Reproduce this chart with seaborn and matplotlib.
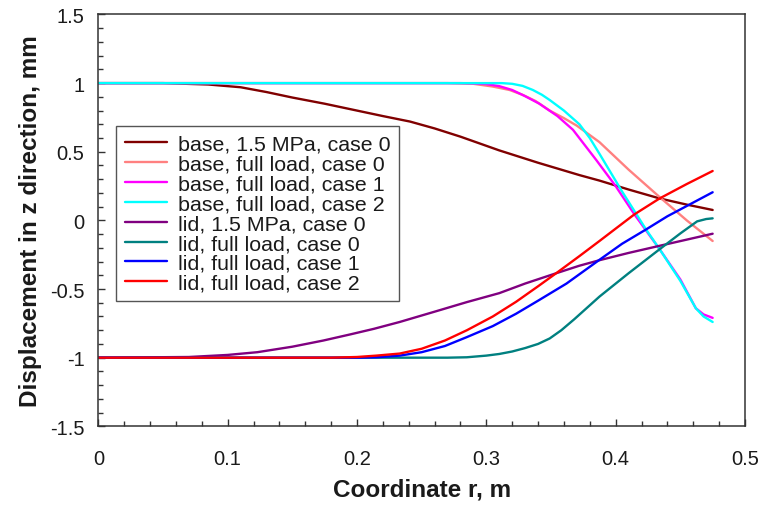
import matplotlib
matplotlib.use("Agg")
import matplotlib.pyplot as plt
import numpy as np
import pandas as pd
import seaborn as sns
from matplotlib.ticker import MultipleLocator, FuncFormatter

# ---------------- data ----------------
series_names = [
    "base, 1.5 MPa, case 0",
    "base, full load, case 0",
    "base, full load, case 1",
    "base, full load, case 2",
    "lid, 1.5 MPa, case 0",
    "lid, full load, case 0",
    "lid, full load, case 1",
    "lid, full load, case 2",
]
colors = ["#800000", "#FF8080", "#FF00FF", "#00FFFF",
          "#800080", "#008080", "#0000FF", "#FF0000"]

r_base_15_c0 = [0, 0.05, 0.085, 0.11, 0.13, 0.15, 0.175, 0.2, 0.22, 0.241, 0.26,
                0.28, 0.31, 0.34, 0.372, 0.3875, 0.41, 0.434, 0.455, 0.475]
v_base_15_c0 = [1.0, 1.0, 0.99, 0.97, 0.935, 0.895, 0.85, 0.80, 0.76, 0.72, 0.67,
                0.61, 0.51, 0.42, 0.33, 0.29, 0.225, 0.16, 0.115, 0.076]

r_base_fl_c0 = [0, 0.27, 0.29, 0.305, 0.318, 0.328, 0.338, 0.349, 0.36, 0.37,
                0.3875, 0.41, 0.434, 0.455, 0.475]
v_base_fl_c0 = [1.0, 1.0, 0.995, 0.975, 0.95, 0.915, 0.87, 0.80, 0.745, 0.69,
                0.57, 0.37, 0.17, 0.0, -0.15]

r_base_fl_c1 = [0, 0.28, 0.29, 0.3, 0.31, 0.32, 0.33, 0.341, 0.355, 0.367, 0.385,
                0.40, 0.4145, 0.434, 0.45, 0.462, 0.468, 0.475]
v_base_fl_c1 = [1.0, 1.0, 0.998, 0.993, 0.978, 0.95, 0.905, 0.85, 0.76, 0.66, 0.44,
                0.25, 0.044, -0.21, -0.43, -0.64, -0.685, -0.71]

r_base_fl_c2 = [0, 0.312, 0.32, 0.328, 0.336, 0.343, 0.349, 0.36, 0.372, 0.38,
                0.3875, 0.405, 0.4235, 0.434, 0.45, 0.462, 0.468, 0.475]
v_base_fl_c2 = [1.0, 1.0, 0.995, 0.98, 0.95, 0.915, 0.877, 0.80, 0.70, 0.60,
                0.485, 0.21, -0.066, -0.21, -0.44, -0.64, -0.70, -0.74]

r_lid_15_c0 = [0, 0.07, 0.1, 0.123, 0.15, 0.174, 0.195, 0.213, 0.233, 0.26, 0.285,
               0.31, 0.33, 0.354, 0.372, 0.3875, 0.41, 0.434, 0.455, 0.475]
v_lid_15_c0 = [-1.0, -0.995, -0.98, -0.96, -0.92, -0.875, -0.83, -0.79, -0.74,
               -0.665, -0.595, -0.53, -0.46, -0.385, -0.33, -0.29, -0.237,
               -0.185, -0.14, -0.097]

r_lid_fl_c0 = [0, 0.27, 0.285, 0.3, 0.31, 0.32, 0.33, 0.34, 0.349, 0.358, 0.368,
               0.3875, 0.41, 0.434, 0.45, 0.463, 0.47, 0.475]
v_lid_fl_c0 = [-1.0, -1.0, -0.997, -0.985, -0.973, -0.955, -0.93, -0.9, -0.86,
               -0.8, -0.72, -0.555, -0.385, -0.21, -0.095, -0.007, 0.01, 0.015]

r_lid_fl_c1 = [0, 0.2, 0.215, 0.233, 0.25, 0.268, 0.285, 0.305, 0.323, 0.34,
               0.362, 0.3875, 0.405, 0.4235, 0.44, 0.458, 0.475]
v_lid_fl_c1 = [-1.0, -1.0, -0.997, -0.985, -0.96, -0.915, -0.85, -0.77, -0.68,
               -0.585, -0.46, -0.287, -0.17, -0.066, 0.03, 0.12, 0.205]

r_lid_fl_c2 = [0, 0.18, 0.2, 0.215, 0.233, 0.25, 0.268, 0.285, 0.305, 0.323,
               0.34, 0.354, 0.372, 0.3875, 0.4, 0.4145, 0.434, 0.455, 0.475]
v_lid_fl_c2 = [-1.0, -1.0, -0.995, -0.985, -0.97, -0.935, -0.875, -0.80, -0.70,
               -0.593, -0.48, -0.385, -0.26, -0.15, -0.06, 0.044, 0.16, 0.265, 0.36]

r_all = [r_base_15_c0, r_base_fl_c0, r_base_fl_c1, r_base_fl_c2,
         r_lid_15_c0, r_lid_fl_c0, r_lid_fl_c1, r_lid_fl_c2]
v_all = [v_base_15_c0, v_base_fl_c0, v_base_fl_c1, v_base_fl_c2,
         v_lid_15_c0, v_lid_fl_c0, v_lid_fl_c1, v_lid_fl_c2]

x_label = "Coordinate r, m"
y_label = "Displacement in z direction, mm"

# ---------------- build table ----------------
frames = [pd.DataFrame({"r": r, "v": v, "series": name})
          for name, r, v in zip(series_names, r_all, v_all)]
df = pd.concat(frames, ignore_index=True)

# ---------------- style ----------------
sns.set_theme(style="white")
plt.rcParams["font.family"] = ["Liberation Sans", "DejaVu Sans"]
plt.rcParams["axes.unicode_minus"] = False

fig = plt.figure(figsize=(7.64, 5.06), dpi=100)
ax = fig.add_axes([0.1287, 0.1555, 0.9751 - 0.1287, 0.9694 - 0.1555])

sns.lineplot(data=df, x="r", y="v", hue="series", hue_order=series_names,
             palette=colors, estimator=None, sort=False, linewidth=1.7, ax=ax)

ax.set_xlim(0, 0.5)
ax.set_ylim(-1.5, 1.5)
ax.xaxis.set_major_locator(MultipleLocator(0.1))
ax.xaxis.set_minor_locator(MultipleLocator(0.02))
ax.yaxis.set_major_locator(MultipleLocator(0.5))
ax.yaxis.set_minor_locator(MultipleLocator(0.1))


def fmt(v, pos):
    v = round(v, 3)
    if v == 0:
        return "0"
    return f"{v:g}"


ax.xaxis.set_major_formatter(FuncFormatter(fmt))
ax.yaxis.set_major_formatter(FuncFormatter(fmt))

ax.tick_params(which="both", direction="in", top=False, right=False,
               left=True, bottom=True, color="#333333", width=1.0)
ax.tick_params(which="major", length=5, labelsize=14.5, labelcolor="#1a1a1a")
ax.tick_params(which="minor", length=3.6)
ax.tick_params(axis="x", which="major", pad=16)
ax.tick_params(axis="y", which="major", pad=10)

for s in ax.spines.values():
    s.set_visible(True)
    s.set_color("#333333")
    s.set_linewidth(1.1)

ax.set_xlabel(x_label, fontsize=17.5, fontweight="bold", color="#1a1a1a", labelpad=7)
ax.set_ylabel(y_label, fontsize=17.5, fontweight="bold", color="#1a1a1a", labelpad=6)

handles, labels = ax.get_legend_handles_labels()
leg = ax.legend(handles, labels, loc="upper left", bbox_to_anchor=(0.0275, 0.7285),
                fontsize=15.4, frameon=True, fancybox=False, shadow=False,
                framealpha=1, edgecolor="#555555", borderpad=0.4,
                labelspacing=0.04, handlelength=2.0, handletextpad=0.5,
                borderaxespad=0)
leg.get_frame().set_linewidth(1.0)
for t in leg.get_texts():
    t.set_color("#1a1a1a")
for lh in leg.get_lines():
    lh.set_linewidth(1.7)

fig.savefig("out.png", dpi=100)
